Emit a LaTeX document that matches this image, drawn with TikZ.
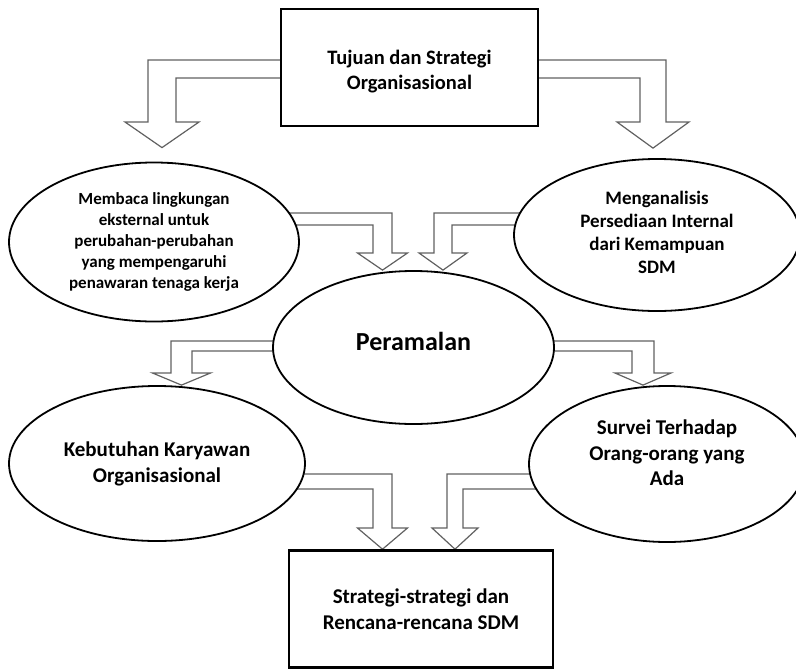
\documentclass[tikz,border=0pt]{standalone}
\usepackage{fontspec}
\setmainfont{Carlito}
\usetikzlibrary{shapes.geometric,calc}
\pgfdeclarelayer{background}
\pgfsetlayers{background,main}

\tikzset{
  goalbox/.style={draw=black, line width=2.6pt, fill=white, rectangle,
    inner sep=0pt, align=center},
  oval/.style={draw=black, line width=1.8pt, fill=white, ellipse,
    inner sep=0pt, align=center},
  flow/.style={draw=black!62, line width=1.2pt, fill=white, line join=miter},
}

% Bent hollow block arrow: leaves node #1 horizontally (edges at y=#3 and y=#4),
% turns down at x=#5 (outer) / x=#6 (inner), head starts at y=#7 with
% half width #8, and its tip stops #9 above the north side of node #2.
\newcommand\bentflow[9]{%
  \pgfmathsetmacro\bfc{(#5+#6)/2}%
  \pgfmathsetmacro\bfs{#5<#6 ? -1 : 1}%
  \pgfmathsetmacro\bfho{\bfc+\bfs*#8}%
  \pgfmathsetmacro\bfhi{\bfc-\bfs*#8}%
  \draw[flow] (#1.center |- 0,#3) -- (#5,#3) -- (#5,#7) -- (\bfho,#7)
    -- ($(#2.north -| \bfc,0)+(0,-#9)$) -- (\bfhi,#7) -- (#6,#7) -- (#6,#4)
    -- (#1.center |- 0,#4);}

\begin{document}
\begin{tikzpicture}[x=1pt, y=-1pt]
  \useasboundingbox (0,0) rectangle (796,670);

  % boxes
  \node[goalbox, minimum width=257pt, minimum height=117pt,
        font=\bfseries\fontsize{20.5}{25}\selectfont]
    (goal) at (409.5,67.5) {\rule{0pt}{22pt}Tujuan dan Strategi\\Organisasional};
  \node[goalbox, minimum width=264pt, minimum height=117pt,
        font=\bfseries\fontsize{21}{26}\selectfont]
    (plan) at (421,609) {Strategi-strategi dan\\Rencana-rencana SDM};

  % ellipses
  \node[oval, minimum width=290pt, minimum height=159pt,
        font=\bfseries\fontsize{17}{21}\selectfont]
    (ext) at (154,242) {Membaca lingkungan\\eksternal untuk\\perubahan-perubahan\\yang mempengaruhi\\penawaran tenaga kerja};
  \node[oval, minimum width=286pt, minimum height=152pt,
        font=\bfseries\fontsize{19}{23}\selectfont]
    (int) at (657,235) {Menganalisis\\Persediaan Internal\\dari Kemampuan\\SDM\rule[-6pt]{0pt}{6pt}};
  \node[oval, minimum width=281pt, minimum height=153pt,
        font=\bfseries\fontsize{26}{30}\selectfont]
    (fore) at (413.5,347.5) {Peramalan\rule[-12pt]{0pt}{12pt}};
  \node[oval, minimum width=296pt, minimum height=155pt,
        font=\bfseries\fontsize{21}{26}\selectfont]
    (need) at (157,463.5) {Kebutuhan Karyawan\\Organisasional};
  \node[oval, minimum width=276pt, minimum height=156pt,
        font=\bfseries\fontsize{21}{25.5}\selectfont]
    (surv) at (667,464) {Survei Terhadap\\Orang-orang yang\\Ada\rule[-22pt]{0pt}{22pt}};

  % hollow bent arrows
  \begin{pgfonlayer}{background}
    \bentflow{goal}{ext}{60}{78}{148}{176}{122}{37}{14}
    \bentflow{goal}{int}{60}{78}{666}{640}{122}{36}{10}
    \bentflow{ext}{fore}{213}{225}{392}{373}{253}{25}{0}
    \bentflow{int}{fore}{213}{225}{434}{452}{253}{24}{0}
    \bentflow{fore}{need}{341}{351}{171}{192}{373}{29}{0}
    \bentflow{fore}{surv}{341}{351}{654}{632}{373}{28}{0}
    \bentflow{need}{plan}{474}{489}{392}{373}{528}{25}{0}
    \bentflow{surv}{plan}{474}{489}{447}{463}{528}{23}{0}
  \end{pgfonlayer}
\end{tikzpicture}
\end{document}
